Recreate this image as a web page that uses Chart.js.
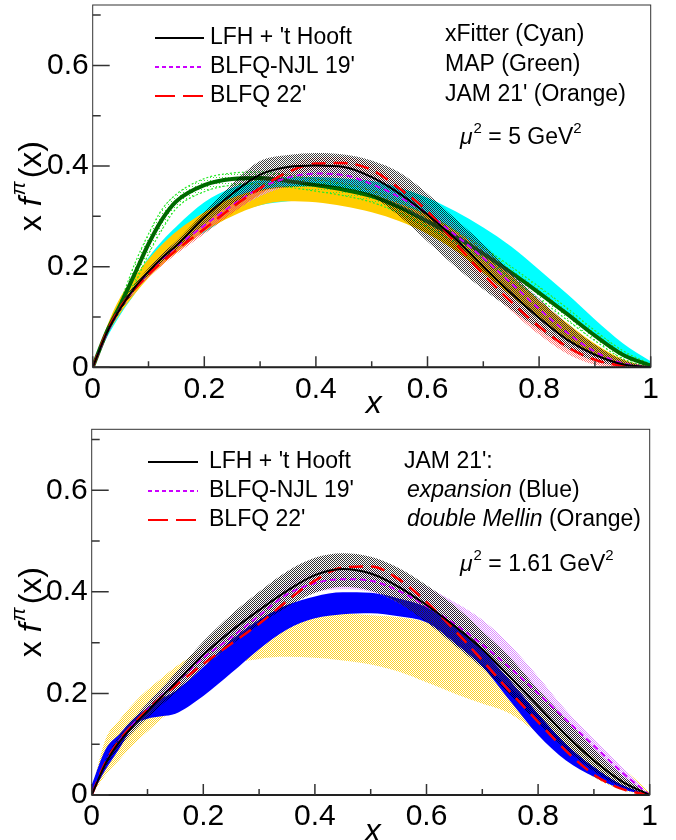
<!DOCTYPE html>
<html>
<head>
<meta charset="utf-8">
<script src="https://cdn.jsdelivr.net/npm/chart.js@4/dist/chart.umd.min.js"></script>
<style>
body { margin: 0; background: #fff; }
.pad { position: absolute; left: 0; width: 676px; height: 420px; }
</style>
</head>
<body>
<div class="pad" style="top:0"><canvas id="G1" width="676" height="420"></canvas></div>
<div class="pad" style="top:420px"><canvas id="G2" width="676" height="420"></canvas></div>
<script>
// x grid shared by every curve
const xGrid = [0, 0.025, 0.05, 0.075, 0.1, 0.125, 0.15, 0.2, 0.25, 0.3, 0.35, 0.4, 0.45, 0.5, 0.55, 0.6, 0.65, 0.7, 0.75, 0.8, 0.85, 0.9, 0.95, 1];
const xTicks = [0, 0.2, 0.4, 0.6, 0.8, 1];
const xMinor = [0.1, 0.3, 0.5, 0.7, 0.9];
const yTicks = [0, 0.2, 0.4, 0.6];
const yMinor = [0.1, 0.3, 0.5, 0.7];

// mu^2 = 5 GeV^2
const lfh5   = [0, 0.068, 0.118, 0.158, 0.19, 0.218, 0.242, 0.298, 0.345, 0.383, 0.398, 0.401, 0.398, 0.378, 0.345, 0.303, 0.255, 0.2, 0.147, 0.098, 0.055, 0.025, 0.006, 0];
const lfh5Lo = [0, 0.063, 0.112, 0.151, 0.183, 0.21, 0.233, 0.284, 0.325, 0.35, 0.358, 0.36, 0.356, 0.34, 0.3, 0.25, 0.2, 0.155, 0.115, 0.075, 0.038, 0.012, 0.002, 0];
const lfh5Hi = [0, 0.073, 0.124, 0.165, 0.197, 0.226, 0.251, 0.308, 0.365, 0.41, 0.422, 0.426, 0.423, 0.411, 0.387, 0.345, 0.295, 0.245, 0.19, 0.135, 0.087, 0.045, 0.015, 0];
const njl5   = [0, 0.066, 0.118, 0.156, 0.188, 0.216, 0.24, 0.282, 0.322, 0.356, 0.377, 0.385, 0.382, 0.364, 0.338, 0.305, 0.263, 0.217, 0.167, 0.116, 0.069, 0.031, 0.008, 0];
const njl5Lo = [0, 0.062, 0.112, 0.149, 0.18, 0.207, 0.23, 0.27, 0.308, 0.34, 0.36, 0.368, 0.364, 0.346, 0.32, 0.285, 0.242, 0.196, 0.146, 0.096, 0.052, 0.019, 0.003, 0];
const njl5Hi = [0, 0.07, 0.124, 0.163, 0.196, 0.225, 0.25, 0.294, 0.336, 0.372, 0.394, 0.402, 0.4, 0.382, 0.356, 0.325, 0.284, 0.238, 0.188, 0.136, 0.087, 0.044, 0.014, 0];
const blfq5   = [0, 0.07, 0.12, 0.155, 0.185, 0.21, 0.233, 0.275, 0.318, 0.356, 0.388, 0.405, 0.406, 0.392, 0.355, 0.31, 0.247, 0.185, 0.13, 0.081, 0.041, 0.015, 0.003, 0];
const blfq5Lo = [0, 0.066, 0.115, 0.149, 0.178, 0.203, 0.225, 0.265, 0.306, 0.344, 0.376, 0.393, 0.394, 0.38, 0.341, 0.294, 0.229, 0.167, 0.112, 0.065, 0.027, 0.005, 0, 0];
const blfq5Hi = [0, 0.074, 0.125, 0.161, 0.192, 0.217, 0.241, 0.285, 0.33, 0.368, 0.4, 0.417, 0.418, 0.404, 0.367, 0.322, 0.259, 0.197, 0.142, 0.091, 0.049, 0.021, 0.006, 0];
const xfitLo = [0, 0.058, 0.105, 0.145, 0.183, 0.215, 0.243, 0.268, 0.303, 0.322, 0.33, 0.332, 0.33, 0.322, 0.305, 0.285, 0.255, 0.222, 0.185, 0.145, 0.103, 0.062, 0.025, 0];
const xfitHi = [0, 0.072, 0.128, 0.175, 0.218, 0.252, 0.28, 0.328, 0.357, 0.372, 0.378, 0.378, 0.375, 0.37, 0.357, 0.337, 0.31, 0.278, 0.24, 0.194, 0.146, 0.095, 0.048, 0.012];
const map5   = [0, 0.07, 0.125, 0.185, 0.245, 0.295, 0.33, 0.362, 0.374, 0.376, 0.37, 0.362, 0.353, 0.34, 0.318, 0.29, 0.26, 0.226, 0.188, 0.148, 0.106, 0.063, 0.025, 0.003];
const map5Lo = [0, 0.066, 0.118, 0.165, 0.225, 0.275, 0.316, 0.349, 0.362, 0.364, 0.358, 0.35, 0.341, 0.328, 0.306, 0.278, 0.248, 0.214, 0.176, 0.136, 0.094, 0.053, 0.017, 0];
const map5Hi = [0, 0.074, 0.132, 0.205, 0.265, 0.315, 0.344, 0.375, 0.386, 0.388, 0.382, 0.374, 0.365, 0.352, 0.33, 0.302, 0.272, 0.238, 0.2, 0.16, 0.118, 0.073, 0.033, 0.006];
const jam5Lo = [0, 0.062, 0.108, 0.145, 0.178, 0.205, 0.228, 0.27, 0.3, 0.322, 0.33, 0.328, 0.32, 0.308, 0.29, 0.265, 0.232, 0.188, 0.142, 0.097, 0.056, 0.025, 0.006, 0];
const jam5Hi = [0, 0.08, 0.14, 0.18, 0.215, 0.245, 0.27, 0.308, 0.337, 0.353, 0.36, 0.36, 0.356, 0.344, 0.325, 0.303, 0.272, 0.228, 0.182, 0.133, 0.088, 0.047, 0.016, 0];

// mu^2 = 1.61 GeV^2
const lfh161   = [0, 0.062, 0.105, 0.137, 0.165, 0.193, 0.22, 0.276, 0.323, 0.364, 0.402, 0.433, 0.445, 0.436, 0.41, 0.374, 0.333, 0.287, 0.232, 0.175, 0.118, 0.068, 0.027, 0];
const lfh161Lo = [0, 0.055, 0.095, 0.125, 0.152, 0.177, 0.201, 0.252, 0.296, 0.335, 0.37, 0.398, 0.41, 0.402, 0.378, 0.34, 0.295, 0.25, 0.197, 0.142, 0.09, 0.047, 0.016, 0];
const lfh161Hi = [0, 0.07, 0.117, 0.151, 0.181, 0.21, 0.24, 0.302, 0.355, 0.4, 0.44, 0.467, 0.476, 0.469, 0.447, 0.413, 0.373, 0.323, 0.27, 0.208, 0.15, 0.092, 0.04, 0];
const njl161   = [0, 0.063, 0.107, 0.14, 0.168, 0.195, 0.22, 0.27, 0.31, 0.353, 0.395, 0.417, 0.425, 0.422, 0.402, 0.372, 0.337, 0.296, 0.25, 0.2, 0.148, 0.097, 0.045, 0];
const njl161Lo = [0, 0.058, 0.099, 0.13, 0.156, 0.182, 0.205, 0.252, 0.297, 0.343, 0.385, 0.4, 0.405, 0.4, 0.378, 0.342, 0.3, 0.257, 0.212, 0.166, 0.12, 0.075, 0.032, 0];
const njl161Hi = [0, 0.068, 0.115, 0.15, 0.18, 0.208, 0.235, 0.288, 0.33, 0.375, 0.42, 0.44, 0.447, 0.445, 0.43, 0.41, 0.38, 0.345, 0.295, 0.233, 0.167, 0.11, 0.055, 0];
const blfq161  = [0, 0.065, 0.108, 0.14, 0.168, 0.193, 0.215, 0.258, 0.298, 0.337, 0.382, 0.422, 0.448, 0.45, 0.425, 0.38, 0.325, 0.265, 0.203, 0.144, 0.087, 0.04, 0.012, 0];
const expLo = [0, 0.05, 0.092, 0.136, 0.15, 0.155, 0.16, 0.195, 0.24, 0.287, 0.326, 0.348, 0.356, 0.358, 0.352, 0.34, 0.3, 0.253, 0.185, 0.118, 0.068, 0.036, 0.012, 0];
const expHi = [0.02, 0.09, 0.12, 0.15, 0.172, 0.19, 0.205, 0.252, 0.305, 0.345, 0.374, 0.391, 0.399, 0.398, 0.387, 0.37, 0.332, 0.285, 0.225, 0.16, 0.1, 0.055, 0.02, 0];
const dmLo  = [0, 0.04, 0.07, 0.1, 0.125, 0.15, 0.17, 0.21, 0.255, 0.268, 0.272, 0.27, 0.265, 0.257, 0.243, 0.222, 0.2, 0.18, 0.16, 0.12, 0.075, 0.035, 0.01, 0];
const dmHi  = [0.01, 0.11, 0.148, 0.18, 0.207, 0.23, 0.252, 0.29, 0.335, 0.36, 0.37, 0.365, 0.358, 0.354, 0.35, 0.34, 0.31, 0.275, 0.235, 0.19, 0.145, 0.1, 0.055, 0.005];

const FONT = "'Liberation Sans', Arial, Helvetica, sans-serif";
const MAGENTA = 'rgb(204,0,255)';

function checker(ctx, on, step) {
  const s = step || 2;
  const c = document.createElement('canvas');
  c.width = s; c.height = s;
  const g = c.getContext('2d');
  g.fillStyle = on;
  g.fillRect(0, 0, 1, 1);
  if (s === 2) g.fillRect(1, 1, 1, 1);
  return ctx.createPattern(c, 'repeat');
}

function pts(arr) { return xGrid.map((x, i) => ({x: x, y: arr[i]})); }

function curve(label, arr, color, width, dash, order) {
  return {label: label, data: pts(arr), borderColor: color, borderWidth: width, borderDash: dash || [],
    fill: false, order: order, pointRadius: 0, cubicInterpolationMode: 'monotone'};
}

function band(label, lo, hi, fillStyle, order, edge) {
  const e = edge || {color: 'rgba(0,0,0,0)', width: 0, dash: []};
  const base = {pointRadius: 0, cubicInterpolationMode: 'monotone', order: order,
    borderColor: e.color, borderWidth: e.width, borderDash: e.dash};
  return [
    Object.assign({label: label + ' lo', data: pts(lo), fill: false}, base),
    Object.assign({label: label + ' hi', data: pts(hi), fill: '-1', backgroundColor: fillStyle}, base)
  ];
}

function fmt(v) {
  if (Math.abs(v) < 1e-9) return '0';
  if (Math.abs(v - 1) < 1e-9) return '1';
  return v.toFixed(1);
}

// text with italic / superscript pieces
function richWidth(ctx, parts, size) {
  let w = 0;
  parts.forEach(p => {
    const fs = p.sup ? Math.round(size * 0.65) : size;
    ctx.font = (p.it ? 'italic ' : '') + fs + 'px ' + FONT;
    w += ctx.measureText(p.t).width + (p.gap || 0);
  });
  return w;
}
function rich(ctx, x, y, parts, size) {
  let cx = x;
  ctx.textAlign = 'left';
  ctx.textBaseline = 'middle';
  parts.forEach(p => {
    const fs = p.sup ? Math.round(size * 0.65) : size;
    ctx.font = (p.it ? 'italic ' : '') + fs + 'px ' + FONT;
    ctx.fillText(p.t, cx, p.sup ? y - size * 0.4 : y);
    cx += ctx.measureText(p.t).width + (p.gap || 0);
  });
}

const frame = {
  id: 'frame',
  afterDatasetsDraw(chart) {
    const ctx = chart.ctx, a = chart.chartArea, x = chart.scales.x, y = chart.scales.y;
    ctx.save();
    ctx.strokeStyle = '#333';
    ctx.lineWidth = 1;
    ctx.strokeRect(a.left, a.top, a.right - a.left, a.bottom - a.top);
    ctx.strokeStyle = '#222';
    ctx.lineWidth = 2;
    ctx.beginPath();
    ctx.moveTo(a.left, a.bottom); ctx.lineTo(a.right, a.bottom);
    ctx.stroke();
    ctx.lineWidth = 1.5;
    ctx.strokeStyle = '#333';
    ctx.beginPath();
    xTicks.forEach(v => { const p = x.getPixelForValue(v); ctx.moveTo(p, a.bottom); ctx.lineTo(p, a.bottom - 11); });
    xMinor.forEach(v => { const p = x.getPixelForValue(v); ctx.moveTo(p, a.bottom); ctx.lineTo(p, a.bottom - 6); });
    yTicks.forEach(v => { const p = y.getPixelForValue(v); ctx.moveTo(a.left, p); ctx.lineTo(a.left + 17, p); });
    yMinor.forEach(v => { const p = y.getPixelForValue(v); ctx.moveTo(a.left, p); ctx.lineTo(a.left + 8, p); });
    ctx.stroke();
    ctx.restore();
  }
};

const legendRows = [
  {text: "LFH + 't Hooft", color: '#000', dash: []},
  {text: "BLFQ-NJL 19'", color: MAGENTA, dash: [4, 3]},
  {text: "BLFQ 22'", color: '#ff0000', dash: [20, 8]}
];

function drawTexts(chart, t) {
  const ctx = chart.ctx, a = chart.chartArea;
  ctx.save();
  ctx.fillStyle = '#000';
  // legend
  legendRows.forEach((r, i) => {
    const yy = t.rows[i];
    ctx.save();
    ctx.strokeStyle = r.color; ctx.lineWidth = 2; ctx.setLineDash(r.dash);
    ctx.beginPath(); ctx.moveTo(t.lx0, yy); ctx.lineTo(t.lx1, yy); ctx.stroke();
    ctx.restore();
    rich(ctx, t.tx, yy, [{t: r.text}], 23);
  });
  t.notes.forEach(n => rich(ctx, n.x, n.y, n.parts, 23));
  rich(ctx, t.mu.x, t.mu.y, t.mu.parts, 23);
  // axis titles
  ctx.font = 'italic 32px ' + FONT;
  ctx.textAlign = 'center';
  ctx.textBaseline = 'alphabetic';
  ctx.fillText('x', (a.left + a.right) / 2 + 2, t.xtitle);
  const yParts = [{t: 'x', gap: 9}, {t: 'f', it: true, gap: 2}, {t: '\u03c0', it: true, sup: true, gap: 3}, {t: '(x)'}];
  const w = richWidth(ctx, yParts, 32);
  ctx.save();
  ctx.translate(32, (a.top + a.bottom) / 2);
  ctx.rotate(-Math.PI / 2);
  rich(ctx, -w / 2, 0, yParts, 32);
  ctx.restore();
  ctx.restore();
}

function makeOptions(g) {
  return {
    responsive: false, animation: false, devicePixelRatio: 1,
    layout: {padding: {left: 0, right: g.right, top: g.top, bottom: 0}},
    plugins: {legend: {display: false}, tooltip: {enabled: false}},
    scales: {
      x: {type: 'linear', min: 0, max: 1,
        grid: {display: false, drawTicks: false}, border: {display: false},
        afterBuildTicks: s => { s.ticks = xTicks.map(v => ({value: v})); },
        afterFit: s => { s.height = g.xh; s.paddingLeft = 0; s.paddingRight = 0; },
        ticks: {font: {family: FONT, size: 30}, color: '#000', padding: 4, maxRotation: 0, autoSkip: false, callback: fmt}},
      y: {type: 'linear', min: 0, max: 0.72,
        grid: {display: false, drawTicks: false}, border: {display: false},
        afterBuildTicks: s => { s.ticks = yTicks.map(v => ({value: v})); },
        afterFit: s => { s.width = g.yw; s.paddingTop = 0; s.paddingBottom = 0; },
        ticks: {font: {family: FONT, size: 30}, color: '#000', padding: 4, autoSkip: false, callback: fmt}}
    }
  };
}

// ---- top panel, mu^2 = 5 GeV^2
const c1 = document.getElementById('G1');
const ctx1 = c1.getContext('2d');
const setsTop = [].concat(
  [curve("LFH + 't Hooft", lfh5, '#000', 2, [], 0),
   curve("BLFQ 22'", blfq5, '#ff0000', 2.5, [14, 8], 1),
   curve("BLFQ-NJL 19'", njl5, MAGENTA, 2, [6, 4], 2)],
  band('LFH band', lfh5Lo, lfh5Hi, checker(ctx1, 'rgba(0,0,0,0.75)'), 3),
  band('BLFQ 22 band', blfq5Lo, blfq5Hi, checker(ctx1, 'rgba(255,0,0,0.55)'), 4),
  band('NJL band', njl5Lo, njl5Hi, checker(ctx1, 'rgb(220,140,255)'), 5),
  [curve('MAP', map5, 'rgb(0,105,0)', 4, [], 6)],
  band('MAP band', map5Lo, map5Hi, checker(ctx1, 'rgb(60,230,60)', 3), 7, {color: 'rgb(40,235,40)', width: 1.2, dash: [2, 2]}),
  band('JAM 21', jam5Lo, jam5Hi, 'rgb(255,204,0)', 8),
  band('xFitter', xfitLo, xfitHi, 'rgb(0,255,255)', 9)
);
const texts1 = {
  lx0: 155, lx1: 204, tx: 210, rows: [38, 67, 96],
  notes: [
    {x: 445, y: 35, parts: [{t: 'xFitter (Cyan)'}]},
    {x: 445, y: 65, parts: [{t: 'MAP (Green)'}]},
    {x: 445, y: 95, parts: [{t: "JAM 21' (Orange)"}]}
  ],
  mu: {x: 460, y: 138, parts: [{t: '\u03bc', it: true, gap: 1}, {t: '2', sup: true}, {t: ' = 5 GeV'}, {t: '2', sup: true}]},
  xtitle: 413
};
new Chart(ctx1, {
  type: 'line',
  data: {datasets: setsTop},
  options: makeOptions({right: 25.3, top: 5, xh: 52.7, yw: 92.7}),
  plugins: [frame, {id: 'texts', afterDraw: ch => drawTexts(ch, texts1)}]
});

// ---- bottom panel, mu^2 = 1.61 GeV^2
const c2 = document.getElementById('G2');
const ctx2 = c2.getContext('2d');
const setsBottom = [].concat(
  [curve("LFH + 't Hooft", lfh161, '#000', 2, [], 0),
   curve("BLFQ 22'", blfq161, '#ff0000', 2.5, [14, 8], 1),
   curve("BLFQ-NJL 19'", njl161, MAGENTA, 2, [6, 4], 2)],
  band('LFH band', lfh161Lo, lfh161Hi, checker(ctx2, 'rgba(0,0,0,0.8)'), 3),
  band('NJL band', njl161Lo, njl161Hi, checker(ctx2, 'rgb(220,140,255)'), 4),
  band('expansion', expLo, expHi, 'rgb(0,0,255)', 5),
  band('double Mellin', dmLo, dmHi, checker(ctx2, 'rgb(255,212,40)'), 6)
);
const texts2 = {
  lx0: 148, lx1: 198, tx: 209, rows: [42, 71, 100],
  notes: [
    {x: 404, y: 42, parts: [{t: "JAM 21':"}]},
    {x: 407, y: 71, parts: [{t: 'expansion', it: true}, {t: ' (Blue)'}]},
    {x: 407, y: 100, parts: [{t: 'double Mellin', it: true}, {t: ' (Orange)'}]}
  ],
  mu: {x: 460, y: 145, parts: [{t: '\u03bc', it: true, gap: 1}, {t: '2', sup: true}, {t: ' = 1.61 GeV'}, {t: '2', sup: true}]},
  xtitle: 421
};
new Chart(ctx2, {
  type: 'line',
  data: {datasets: setsBottom},
  options: makeOptions({right: 26.3, top: 9.3, xh: 45, yw: 91.7}),
  plugins: [frame, {id: 'texts', afterDraw: ch => drawTexts(ch, texts2)}]
});
</script>
</body>
</html>
